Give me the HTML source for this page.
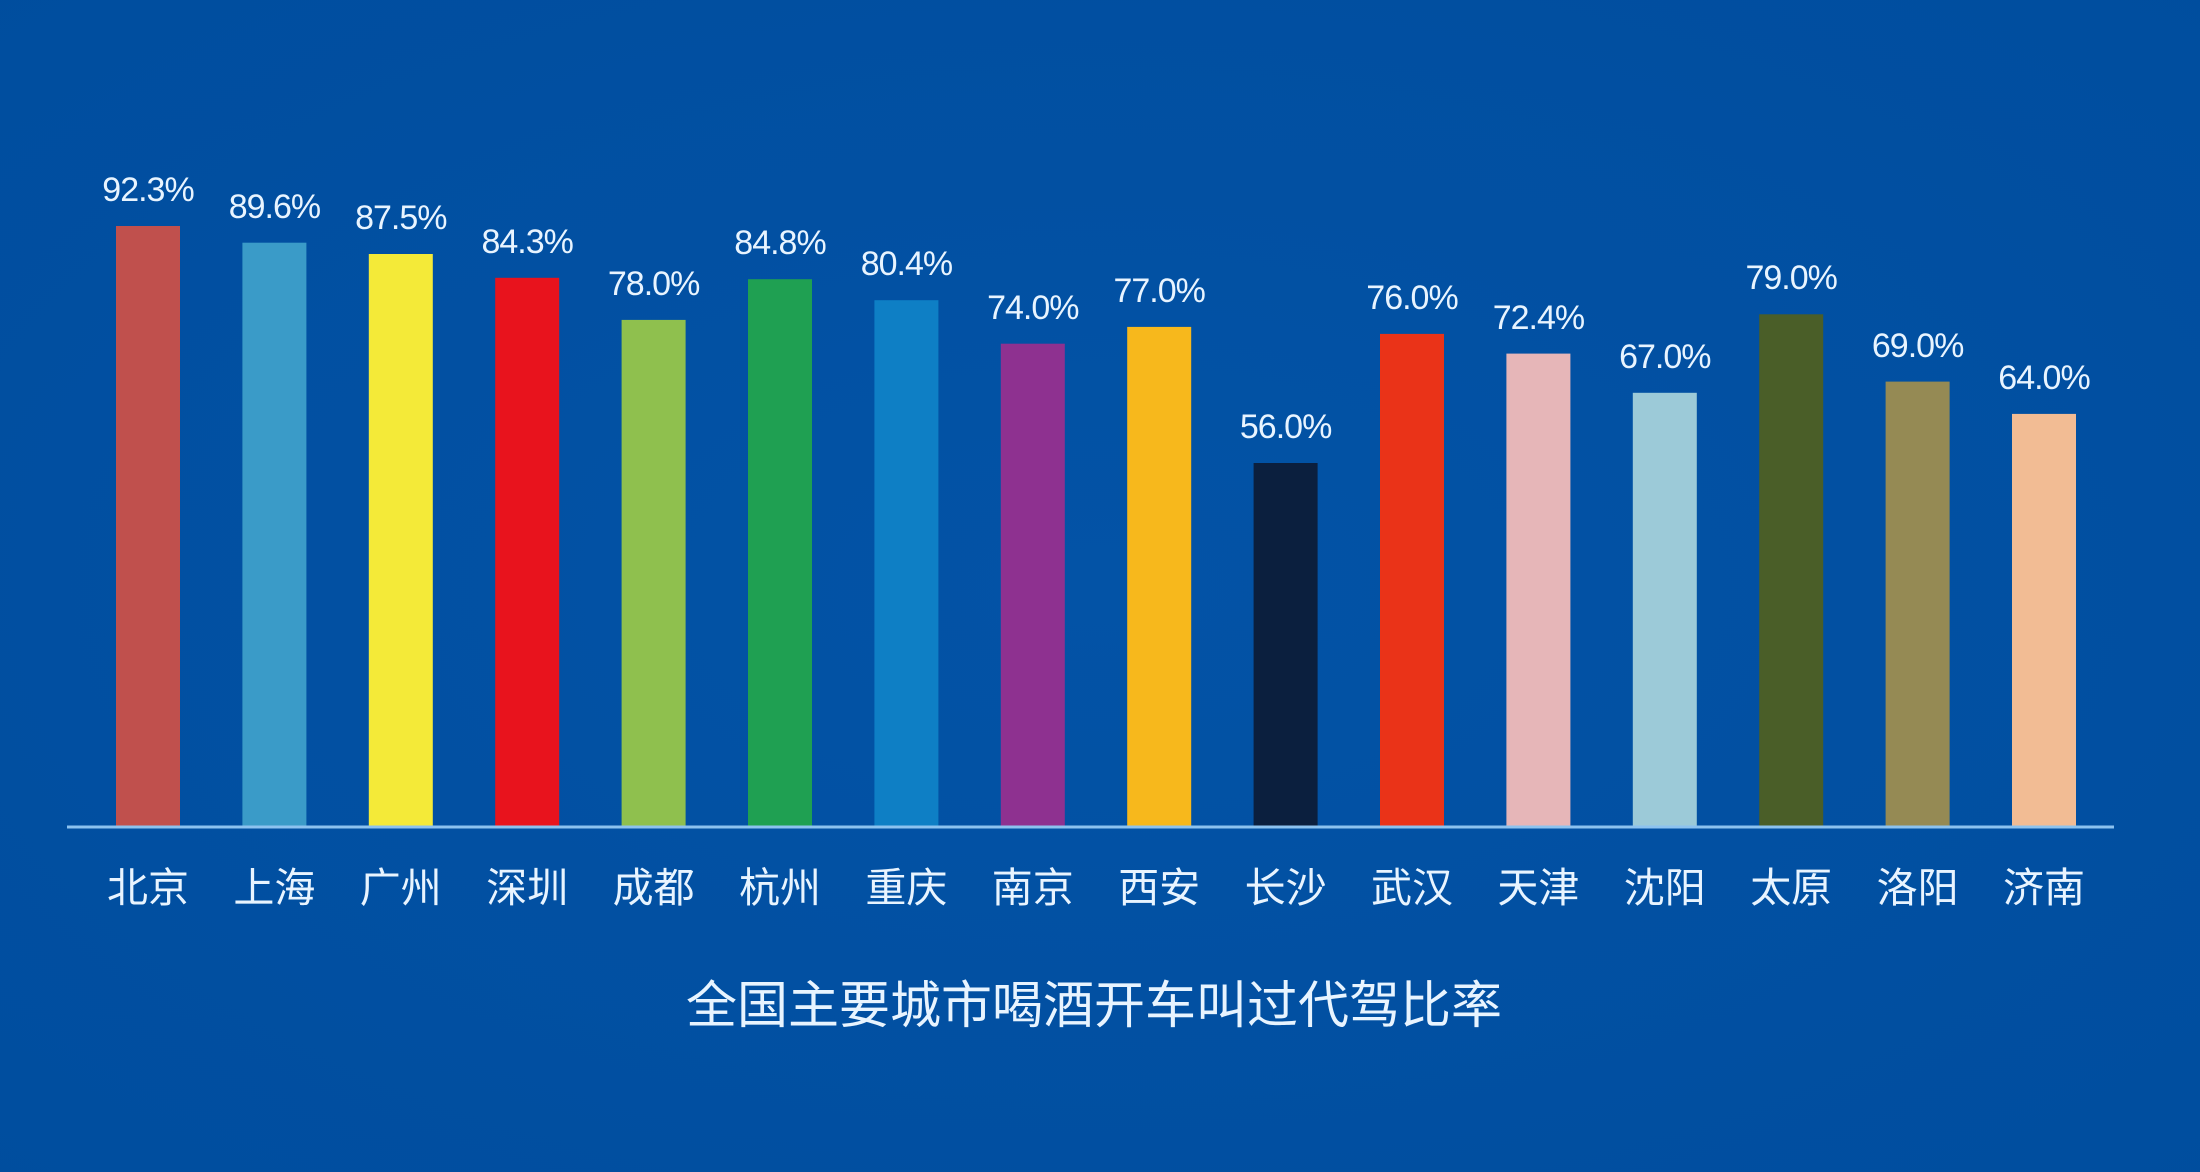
<!DOCTYPE html>
<html>
<head>
<meta charset="utf-8">
<style>
  html,body{margin:0;padding:0;background:#0251a3;}
  svg{display:block;}
  .v{font-family:"Liberation Sans","Noto Sans CJK SC",sans-serif;font-size:34px;fill:#e8f4ff;text-anchor:middle;letter-spacing:-1px;}
  .c{font-family:"Liberation Sans","Noto Sans CJK SC",sans-serif;font-size:41px;fill:#e8f4ff;text-anchor:middle;}
  .t{font-family:"Liberation Sans","Noto Sans CJK SC",sans-serif;font-size:51px;fill:#e8f4ff;text-anchor:middle;}
</style>
</head>
<body>
<svg width="2200" height="1172" viewBox="0 0 2200 1172" xmlns="http://www.w3.org/2000/svg">
  <defs>
    <radialGradient id="bg" cx="50%" cy="50%" r="75%">
      <stop offset="0%" stop-color="#0353a6"/>
      <stop offset="100%" stop-color="#004d9e"/>
    </radialGradient>
  </defs>
  <rect x="0" y="0" width="2200" height="1172" fill="url(#bg)"/>

  <!-- bars -->
  <rect x="116.0" y="226.0" width="64" height="600" fill="#c0504d"/>
  <rect x="242.4" y="242.7" width="64" height="583.3" fill="#3a9bc8"/>
  <rect x="368.8" y="254.0" width="64" height="572" fill="#f4ea38"/>
  <rect x="495.2" y="277.8" width="64" height="548.2" fill="#e8131d"/>
  <rect x="621.6" y="319.9" width="64" height="506.1" fill="#8fc04e"/>
  <rect x="748.0" y="279.2" width="64" height="546.8" fill="#1fa052"/>
  <rect x="874.4" y="300.2" width="64" height="525.8" fill="#0e7fc5"/>
  <rect x="1000.8" y="343.7" width="64" height="482.3" fill="#8e3190"/>
  <rect x="1127.2" y="326.9" width="64" height="499.1" fill="#f7b81c"/>
  <rect x="1253.6" y="463.0" width="64" height="363" fill="#0b1f3e"/>
  <rect x="1380.0" y="333.9" width="64" height="492.1" fill="#ea3318"/>
  <rect x="1506.4" y="353.6" width="64" height="472.4" fill="#e6b6b8"/>
  <rect x="1632.8" y="392.8" width="64" height="433.2" fill="#9ccad8"/>
  <rect x="1759.2" y="314.3" width="64" height="511.7" fill="#4a5e28"/>
  <rect x="1885.6" y="381.6" width="64" height="444.4" fill="#958a54"/>
  <rect x="2012.0" y="413.9" width="64" height="412.1" fill="#f2bc94"/>

  <!-- axis -->
  <line x1="67" y1="827" x2="2114" y2="827" stroke="#8cc2ef" stroke-width="3"/>

  <!-- value labels -->
  <text class="v" x="148.0" y="201">92.3%</text>
  <text class="v" x="274.4" y="218">89.6%</text>
  <text class="v" x="400.8" y="229">87.5%</text>
  <text class="v" x="527.2" y="253">84.3%</text>
  <text class="v" x="653.6" y="295">78.0%</text>
  <text class="v" x="780.0" y="254">84.8%</text>
  <text class="v" x="906.4" y="275">80.4%</text>
  <text class="v" x="1032.8" y="319">74.0%</text>
  <text class="v" x="1159.2" y="302">77.0%</text>
  <text class="v" x="1285.6" y="438">56.0%</text>
  <text class="v" x="1412.0" y="309">76.0%</text>
  <text class="v" x="1538.4" y="329">72.4%</text>
  <text class="v" x="1664.8" y="368">67.0%</text>
  <text class="v" x="1791.2" y="289">79.0%</text>
  <text class="v" x="1917.6" y="357">69.0%</text>
  <text class="v" x="2044.0" y="389">64.0%</text>

  <!-- city labels -->
  <text class="c" x="148.0" y="902">北京</text>
  <text class="c" x="274.4" y="902">上海</text>
  <text class="c" x="400.8" y="902">广州</text>
  <text class="c" x="527.2" y="902">深圳</text>
  <text class="c" x="653.6" y="902">成都</text>
  <text class="c" x="780.0" y="902">杭州</text>
  <text class="c" x="906.4" y="902">重庆</text>
  <text class="c" x="1032.8" y="902">南京</text>
  <text class="c" x="1159.2" y="902">西安</text>
  <text class="c" x="1285.6" y="902">长沙</text>
  <text class="c" x="1412.0" y="902">武汉</text>
  <text class="c" x="1538.4" y="902">天津</text>
  <text class="c" x="1664.8" y="902">沈阳</text>
  <text class="c" x="1791.2" y="902">太原</text>
  <text class="c" x="1917.6" y="902">洛阳</text>
  <text class="c" x="2044.0" y="902">济南</text>

  <!-- title -->
  <text class="t" x="1094" y="1023">全国主要城市喝酒开车叫过代驾比率</text>
</svg>
</body>
</html>
